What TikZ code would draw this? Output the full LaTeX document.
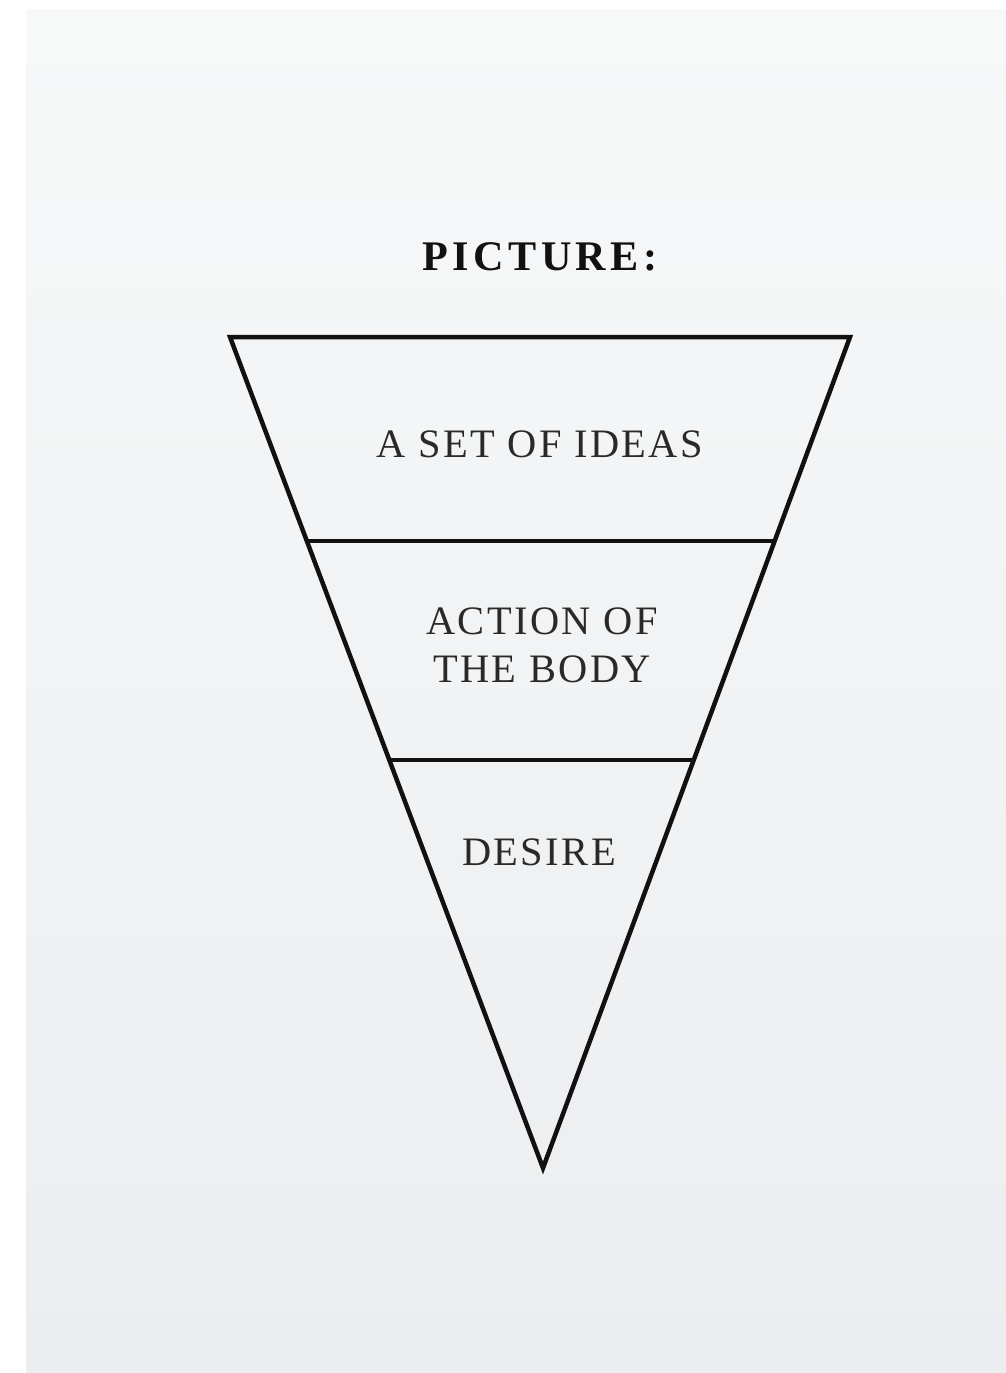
\documentclass[tikz,border=0pt]{standalone}
\usepackage{fontspec}
\setmainfont{Liberation Serif}
\newfontfamily\titrefont[LetterSpace=10.5]{Liberation Serif}
\newfontfamily\couchefont[LetterSpace=6]{Liberation Serif}
\usepackage{tikz}
\usetikzlibrary{calc}
\definecolor{pagehaut}{HTML}{F7F8F8}
\definecolor{pagebas}{HTML}{EBEDF0}
\definecolor{encre}{HTML}{111111}

\begin{document}
\begin{tikzpicture}[
    x=0.02cm, y=-0.02cm,
    titre/.style={font=\titrefont\bfseries\fontsize{24}{28}\selectfont,
      text=encre, anchor=base, inner sep=0pt},
    couche/.style={font=\couchefont\fontsize{23}{27.2}\selectfont,
      text=encre!90, align=center, inner sep=0pt},
    trait/.style={draw=encre, line width=0.09cm, line join=miter}
  ]
    % page
    \useasboundingbox (0,0) rectangle (1006,1373);
    \shade[top color=pagehaut, bottom color=pagebas] (26,9) rectangle (1006,1373);

    \node[titre] (titre) at (540,270) {PICTURE:};

    % triangle
    \coordinate (hg) at (230,337);
    \coordinate (hd) at (850,337);
    \coordinate (pointe) at (543,1168);
    \coordinate (g1) at ($(hg)!0.2455!(pointe)$);
    \coordinate (d1) at ($(hd)!0.2455!(pointe)$);
    \coordinate (g2) at ($(hg)!0.509!(pointe)$);
    \coordinate (d2) at ($(hd)!0.509!(pointe)$);

    \draw[trait] (hg) -- (hd) -- (pointe) -- cycle;
    \draw[trait] (g1) -- (d1);
    \draw[trait] (g2) -- (d2);

    \node[couche, anchor=base] (idees) at (540,457) {A SET OF IDEAS};
    \node[couche] (corps) at (542,645.5) {ACTION OF\\THE BODY};
    \node[couche, anchor=base] (desir) at (539,865) {DESIRE};
  \end{tikzpicture}
\end{document}
